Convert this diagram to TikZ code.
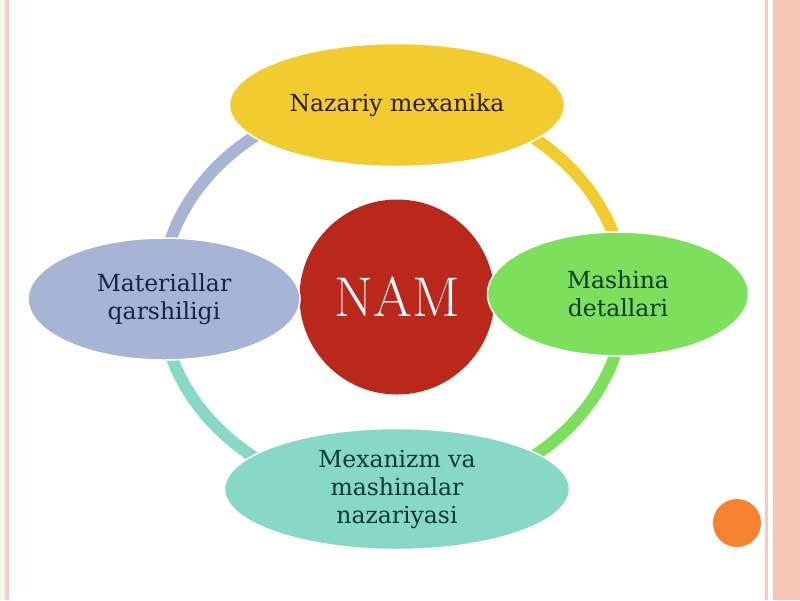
\documentclass[tikz,border=0pt]{standalone}
\usepackage{tikz}
\usepackage{fontspec}
\usetikzlibrary{shapes.geometric, backgrounds}
\newfontfamily\topicfont{DejaVu Serif}
\definecolor{clYellow}{RGB}{242,203,46}
\definecolor{clGreen}{RGB}{125,224,92}
\definecolor{clTeal}{RGB}{136,216,198}
\definecolor{clBlue}{RGB}{168,180,214}
\definecolor{clRed}{RGB}{185,40,26}
\definecolor{clOrange}{RGB}{245,130,46}
\definecolor{clSalmon}{RGB}{249,198,182}
\definecolor{clPink}{RGB}{249,200,200}
\definecolor{clMint}{RGB}{236,250,226}
\definecolor{inkYellow}{RGB}{40,28,70}
\definecolor{inkGreen}{RGB}{12,58,40}
\definecolor{inkTeal}{RGB}{12,56,56}
\definecolor{inkBlue}{RGB}{24,36,70}

\begin{document}
\begin{tikzpicture}[x = 1pt, y = 1pt,
    topic/.style = {ellipse, draw = white, line width = 1.5pt, inner sep = 0pt, align = center, font = \topicfont\fontsize{23.5}{28}\selectfont},
    ringarc/.style = {line width = 12pt, line cap = butt}]
    %
    \def\RingRx{232}
    \def\RingRy{200}

    % page
    \useasboundingbox (0, 0) rectangle (800, -600);
    \fill [clMint] (0, 0) rectangle (5, -600);
    \fill [clPink] (5, 0) rectangle (9, -600);
    \fill [clPink] (765, 0) rectangle (768, -600);
    \fill [clSalmon] (773, 0) rectangle (800, -600);

    % centre
    \node [circle, fill = clRed, minimum size = 195pt, inner sep = 0pt, text = white, font = \fontsize{56}{60}\selectfont] (nam) at (397, -297) {NAM};

    % topics
    \node [topic, fill = clYellow, text = inkYellow, minimum width = 335pt, minimum height = 123pt] (nazariy) at (397, -105) {Nazariy mexanika};
    \node [topic, fill = clGreen, text = inkGreen, minimum width = 261pt, minimum height = 124pt] (detal) at (618, -294) {Mashina\\detallari};
    \node [topic, fill = clTeal, text = inkTeal, minimum width = 345pt, minimum height = 121pt] (mexanizm) at (397, -489) {Mexanizm va\\mashinalar\\nazariyasi};
    \node [topic, fill = clBlue, text = inkBlue, minimum width = 272pt, minimum height = 122pt] (material) at (164, -299) {Materiallar\\qarshiligi};

    \node [circle, fill = clOrange, minimum size = 48pt, inner sep = 0pt] (dot) at (737, -523) {};

    % ring
    \coordinate (ring) at (393, -297);
    \begin{scope}[on background layer]
        \foreach \from/\to/\col in {180/90/clBlue, 90/0/clYellow, 0/-90/clGreen, -90/-180/clTeal}
        {
            \draw [ringarc, \col] (ring) ++({\RingRx * cos(\from)}, {\RingRy * sin(\from)}) arc [start angle = \from, end angle = \to, x radius = \RingRx, y radius = \RingRy];
        }
    \end{scope}
\end{tikzpicture}
\end{document}
